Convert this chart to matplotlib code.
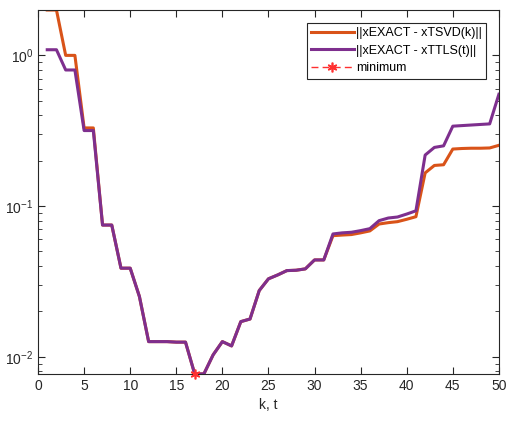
import matplotlib
matplotlib.use("Agg")
import matplotlib.pyplot as plt
import numpy as np

plt.rcParams['font.family'] = ['Liberation Sans', 'DejaVu Sans']
plt.rcParams['mathtext.default'] = 'regular'

# --- donnees ---
k = np.arange(1, 51)

err_tsvd = [2.0, 2.0, 1.0, 1.0, 0.33, 0.33, 0.0748, 0.0748, 0.0387, 0.0387,
            0.0251, 0.0126, 0.0126, 0.0126, 0.0125, 0.0125, 0.00768, 0.0077, 0.0103, 0.0126,
            0.0118, 0.0171, 0.0178, 0.0275, 0.0329, 0.0349, 0.0373, 0.0375, 0.0383, 0.0439,
            0.0439, 0.0636, 0.0642, 0.0647, 0.0664, 0.0684, 0.0760, 0.0776, 0.0788, 0.0817,
            0.0850, 0.166, 0.186, 0.188, 0.239, 0.241, 0.242, 0.242, 0.243, 0.253]

err_ttls = [1.09, 1.09, 0.80, 0.80, 0.317, 0.317, 0.0748, 0.0748, 0.0387, 0.0387,
            0.0251, 0.0126, 0.0126, 0.0126, 0.0125, 0.0125, 0.00768, 0.0077, 0.0103, 0.0126,
            0.0118, 0.0171, 0.0178, 0.0275, 0.0329, 0.0349, 0.0373, 0.0375, 0.0383, 0.0439,
            0.0439, 0.0653, 0.0664, 0.0670, 0.0687, 0.0708, 0.0800, 0.0833, 0.0846, 0.0885,
            0.0930, 0.218, 0.245, 0.251, 0.339, 0.342, 0.345, 0.348, 0.351, 0.552]

k_min = 17
err_min = 0.00768

fig = plt.figure(figsize=(5.07, 4.21), dpi=100)
ax = fig.add_axes([0.075, 0.1116, 0.909, 0.8646])

ax.semilogy(k, err_tsvd, color='#D95319', lw=2.2, label='||xEXACT - xTSVD(k)||')
ax.semilogy(k, err_ttls, color='#7E2F8E', lw=2.2, label='||xEXACT - xTTLS(t)||')
ax.semilogy([k_min], [err_min], linestyle='--', dashes=(5, 3), marker=(6, 2, 0),
            color='#FF3030', ms=7, mew=1.2, lw=1, label='minimum', clip_on=False, zorder=5)

ax.set_xlim(0, 50)
ax.set_ylim(0.00768, 2.0)
ax.set_xticks(np.arange(0, 51, 5))
ax.set_xlabel('k, t', fontsize=10, color='#262626')

for s in ax.spines.values():
    s.set_color('#262626')
    s.set_linewidth(0.8)
ax.tick_params(which='both', direction='in', top=True, right=True, colors='#262626',
               labelsize=10)
ax.tick_params(which='major', length=5)
ax.tick_params(which='minor', length=3)

leg = ax.legend(loc='upper right', fontsize=9, frameon=True, fancybox=False,
                edgecolor='#262626', framealpha=1, borderpad=0.35, handlelength=3.4,
                handletextpad=0.2, labelspacing=0.45, borderaxespad=1.0)
leg.get_frame().set_linewidth(0.8)

fig.savefig('out.png', dpi=100)
